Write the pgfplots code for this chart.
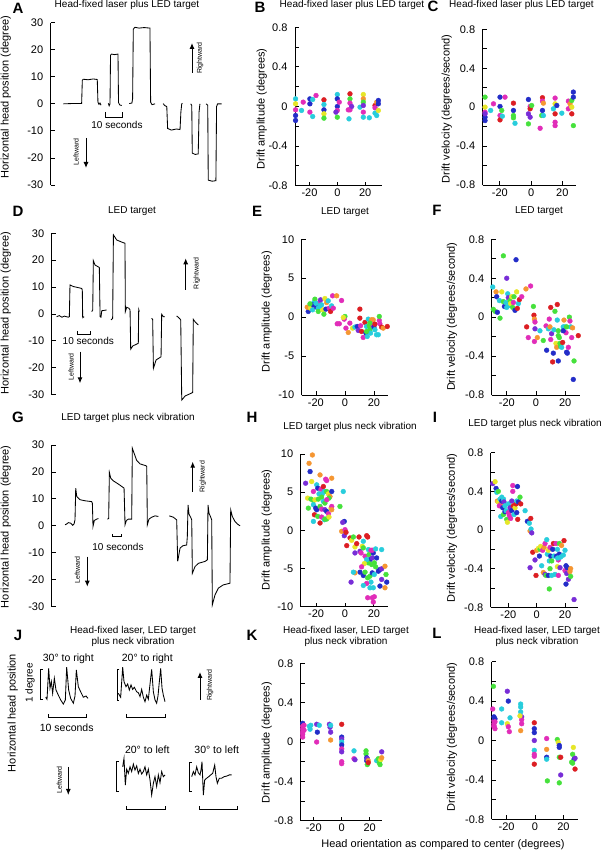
\documentclass[border=0pt]{standalone}
\usepackage{pgfplots}
\pgfplotsset{compat=1.18}
\usepackage{pgfplotstable}
\usepackage{fontspec}
\setmainfont{Liberation Sans}
\usetikzlibrary{arrows.meta}
\definecolor{crd}{RGB}{220,30,35}
\definecolor{cor}{RGB}{245,150,50}
\definecolor{cye}{RGB}{230,230,40}
\definecolor{cgn}{RGB}{70,225,60}
\definecolor{ccy}{RGB}{40,205,220}
\definecolor{cbl}{RGB}{35,45,200}
\definecolor{cpu}{RGB}{120,45,215}
\definecolor{cmg}{RGB}{225,45,185}
\newcommand{\fs}[1]{\fontsize{#1}{#1}\selectfont}
\pgfplotsset{
  base/.style={scale only axis, anchor=south west, clip=false,
    axis line style={line width=0.9pt,-},
    tick style={black,line width=0.8pt},
    tick align=inside, major tick length=4pt, minor tick length=4pt,
    tick label style={font=\fs{11}},
    /pgf/number format/assume math mode=true,
    yticklabel style={xshift=-4pt}},
  trace/.style={base, axis x line=none, axis y line*=left, xtick=\empty, xmin=0, ymin=-30, ymax=30, ytick={-30,-20,...,30}},
  scat/.style={base, axis x line*=bottom, axis y line*=left, xtick={-20,0,20}},
  fr/.style={ymin=-0.8,ymax=0.8,ytick={-0.8,-0.4,0,0.4,0.8},minor ytick={-0.6,-0.2,0.2,0.6}},
  tn/.style={ymin=-10,ymax=10,ytick={-10,-5,0,5,10}},
  tr/.style={black, line width=0.85pt, no marks},
  dots/.style={only marks, scatter, scatter src=explicit symbolic, mark=*, mark size=2.4pt,
    scatter/classes={rd={draw=crd,fill=crd}, or={draw=cor,fill=cor}, ye={draw=cye,fill=cye},
      gn={draw=cgn,fill=cgn}, cy={draw=ccy,fill=ccy}, bl={draw=cbl,fill=cbl},
      pu={draw=cpu,fill=cpu}, mg={draw=cmg,fill=cmg}}},
}
\tikzset{lab/.style={inner sep=0pt,font=\fs{11}},
  ttl/.style={inner sep=0pt,font=\fontsize{10}{11.5}\selectfont,align=center},
  let/.style={inner sep=0pt,font=\fs{15}\bfseries},
  tiny/.style={inner sep=0pt,font=\fs{7},rotate=90},
  arr/.style={line width=1pt,-{Latex[length=6pt,width=5pt]}},
  brk/.style={line width=0.8pt}}

\pgfplotstableread{
x y c
-30.0 0.077 cy
-30.0 0.027 ye
-30.0 -0.034 mg
-30.0 -0.091 bl
-30.0 -0.141 bl
-25.7 -0.040 cy
-24.5 0.044 mg
-19.7 0.077 bl
-19.7 0.027 bl
-19.7 -0.057 mg
-17.7 0.071 cy
-17.7 -0.101 cy
-15.3 0.111 mg
-9.6 0.067 rd
-9.6 0.020 cy
-9.6 -0.034 bl
-9.6 -0.074 ye
-9.6 -0.118 gn
0.0 0.121 cy
0.0 0.077 bl
0.0 0.000 bl
0.0 -0.040 mg
0.0 -0.108 gn
1.4 0.044 mg
-1.0 -0.057 pu
9.1 0.128 rd
9.1 0.077 gn
9.1 0.034 mg
9.1 -0.034 mg
10.3 0.000 pu
7.9 -0.034 mg
8.4 -0.125 cy
16.3 -0.007 cy
18.7 0.121 ye
18.7 0.077 or
18.7 0.044 gn
18.7 0.010 pu
18.7 -0.057 mg
18.7 -0.108 cy
23.0 -0.114 cy
27.1 0.010 rd
27.1 -0.013 mg
27.1 -0.067 cy
28.3 0.044 or
28.3 -0.091 cy
29.5 0.061 bl
29.5 0.027 bl
29.5 -0.040 ye
}\datB

\pgfplotstableread{
x y c
-29.5 0.103 gn
-29.5 0.000 ye
-29.5 -0.052 mg
-29.5 -0.103 bl
-29.5 -0.138 bl
-29.5 -0.069 pu
-25.9 -0.034 cy
-24.1 0.034 mg
-19.9 0.103 bl
-19.9 0.007 bl
-19.9 -0.086 mg
-19.9 -0.131 rd
-18.8 -0.034 gn
-18.4 -0.093 cy
-16.7 0.103 mg
-11.3 0.041 rd
-11.3 -0.034 bl
-11.3 -0.086 gn
-11.3 -0.110 gn
-10.3 -0.166 cy
-1.7 0.079 bl
-1.7 -0.069 pu
-1.7 -0.172 gn
-0.6 0.007 mg
-0.6 -0.017 rd
-0.6 -0.103 pu
0.4 0.017 gn
5.8 -0.217 mg
6.8 -0.086 gn
7.3 0.097 rd
7.3 0.062 mg
7.3 -0.034 bl
7.9 0.041 or
7.9 -0.086 cy
14.3 -0.017 cy
15.4 0.093 mg
15.4 0.034 ye
15.4 -0.069 rd
15.4 -0.155 mg
15.4 -0.190 mg
16.5 0.017 bl
19.7 -0.062 cy
23.9 -0.017 mg
23.9 0.062 mg
25.0 0.034 or
26.1 -0.069 rd
26.1 0.000 ye
26.1 0.069 gn
27.1 0.155 bl
27.1 0.103 bl
27.1 -0.190 gn
}\datC

\pgfplotstableread{
x y c
-25.3 0.73 bl
-26.0 1.28 or
-23.7 1.15 ye
-22.3 0.94 cy
-21.4 1.88 cy
-20.7 2.31 gn
-19.5 1.28 bl
-18.4 1.15 cy
-18.4 0.73 gn
-17.7 1.88 mg
-16.8 2.22 pu
-16.1 1.58 cy
-15.4 0.94 ye
-14.5 0.38 gn
-13.8 2.39 ye
-13.1 1.03 bl
-12.6 1.88 or
-11.5 2.09 cy
-10.8 1.15 mg
-9.9 0.73 rd
-9.2 1.45 cy
-8.0 1.15 mg
-8.5 2.74 mg
-5.7 2.74 or
-2.3 2.14 mg
-21.8 1.58 bl
-24.1 1.71 gn
-20.0 1.79 cy
-17.2 1.45 cy
-5.3 -0.85 mg
-3.9 -0.85 mg
0.0 0.09 gn
-0.5 -0.26 mg
-1.1 -0.04 ye
0.7 -1.41 mg
3.4 -0.77 mg
5.3 -1.41 ye
2.3 -1.97 or
6.9 -1.28 cy
10.3 1.03 rd
10.3 -0.13 rd
8.5 -1.20 bl
9.2 -1.71 pu
10.8 -1.11 mg
11.5 -1.84 rd
12.6 -2.61 mg
13.8 -0.68 rd
14.5 -2.05 bl
14.9 -1.20 cy
15.4 -2.48 cy
16.1 -0.26 cy
16.8 -1.11 gn
17.2 -1.62 gn
17.7 -2.05 cy
18.4 -0.34 or
19.1 -0.98 mg
19.5 -0.34 or
20.0 -1.28 bl
20.7 -0.90 rd
21.8 -2.26 cy
23.0 -2.26 cy
23.7 -0.43 mg
23.7 0.09 gn
24.1 -0.85 mg
25.3 -1.28 rd
26.4 -1.41 or
29.2 -1.20 rd
17.2 -0.77 gn
14.9 -1.84 gn
20.7 -1.62 cy
}\datE

\pgfplotstableread{
x y c
-29.7 0.31 cy
-29.3 0.08 gn
-28.1 0.06 gn
-27.4 0.26 or
-27.0 0.21 bl
-26.5 0.05 bl
-24.7 -0.01 gn
-25.1 0.17 cy
-23.5 0.26 ye
-22.4 0.63 gn
-22.4 0.16 gn
-21.7 0.11 bl
-20.6 0.15 cy
-20.1 0.10 cy
-20.1 0.40 pu
-19.4 0.24 cy
-19.0 0.20 pu
-18.3 0.12 cy
-17.8 0.17 gn
-17.4 0.14 ye
-16.7 0.21 ye
-16.0 0.10 gn
-15.5 0.15 mg
-15.1 0.21 gn
-14.4 0.07 bl
-13.7 0.59 bl
-13.3 0.26 ye
-12.8 0.09 rd
-12.1 0.14 cy
-11.4 0.18 rd
-9.8 0.21 mg
-6.9 0.29 or
-3.7 0.32 mg
-6.4 -0.10 rd
-5.3 -0.21 mg
-1.8 0.11 gn
-1.4 0.02 rd
-1.1 -0.02 or
-0.7 -0.05 mg
-0.7 -0.12 pu
-1.1 -0.25 mg
0.9 -0.21 or
2.7 -0.14 cy
5.0 -0.24 gn
6.9 -0.09 mg
7.3 -0.34 bl
8.5 -0.12 cy
9.1 -0.02 mg
9.6 -0.10 or
10.1 0.10 rd
10.1 -0.23 mg
10.7 -0.17 pu
11.4 -0.46 rd
11.9 -0.37 bl
12.3 -0.13 cy
13.0 0.06 gn
13.7 -0.27 ye
14.2 -0.31 or
14.6 0.13 rd
14.6 -0.03 cy
15.3 -0.14 gn
15.3 -0.19 gn
15.3 -0.45 bl
16.0 -0.21 gn
16.5 -0.27 gn
16.9 -0.30 gn
17.6 -0.31 cy
18.3 -0.26 rd
18.7 -0.10 cy
19.2 -0.03 or
19.9 -0.10 cy
20.6 -0.16 mg
21.0 -0.36 bl
21.5 -0.37 bl
22.2 -0.31 mg
22.9 0.00 gn
23.3 -0.04 mg
23.8 -0.10 cy
24.5 -0.21 mg
25.1 -0.11 or
25.6 -0.64 bl
26.1 -0.45 gn
29.0 -0.19 rd
18.7 -0.14 bl
21.0 -0.10 gn
}\datF

\pgfplotstableread{
x y c
-22.6 9.87 or
-24.9 8.78 or
-24.2 7.70 bl
-27.3 6.17 pu
-23.1 6.39 ye
-19.6 5.96 cy
-17.3 7.26 or
-13.4 6.70 mg
-12.7 6.52 mg
-9.2 6.83 or
-21.9 5.09 mg
-18.9 5.52 bl
-16.6 5.39 mg
-15.0 5.74 rd
-14.3 5.09 cy
-18.0 4.78 cy
-15.7 4.78 cy
-12.7 5.09 gn
-11.5 4.78 ye
-10.4 4.43 or
-11.1 4.22 gn
-9.2 5.09 bl
-25.9 4.22 ye
-23.6 4.09 gn
-21.9 3.91 gn
-20.8 4.00 ye
-18.5 4.09 gn
-16.2 4.35 gn
-15.0 3.78 cy
-13.9 3.57 gn
-12.7 4.00 mg
-25.4 2.91 gn
-21.9 3.35 cy
-20.3 2.91 bl
-19.6 2.70 bl
-17.3 3.13 gn
-16.2 2.78 mg
-13.9 2.70 pu
-12.7 2.48 bl
-11.5 2.17 mg
-9.7 2.91 ye
-9.2 3.13 mg
-21.2 2.04 rd
-21.9 1.17 cy
-18.9 1.83 gn
-16.2 1.74 mg
-14.3 1.39 cy
-17.3 0.96 rd
-13.9 1.48 gn
-12.7 1.48 gn
-11.1 1.74 ye
-9.2 2.70 or
-3.5 3.13 gn
-1.2 5.09 cy
-0.5 1.17 bl
-1.6 1.04 pu
-2.3 -0.13 or
0.0 0.09 mg
-0.5 -0.70 pu
0.7 -0.26 rd
3.5 -1.00 rd
4.6 -1.30 ye
1.2 -2.00 rd
5.8 -0.87 gn
6.9 -2.17 ye
8.1 -1.74 rd
9.7 -0.87 rd
10.4 -2.74 pu
6.9 -2.96 pu
11.1 -2.96 mg
12.0 -2.09 ye
12.7 -1.43 cy
12.7 -2.30 gn
13.9 -3.39 mg
15.0 -0.70 rd
15.7 -0.87 rd
16.2 -2.52 cy
16.6 -3.17 gn
17.3 -3.83 bl
18.0 -2.61 mg
18.9 -3.61 pu
19.6 -2.96 bl
20.3 -4.26 gn
21.2 -4.78 gn
18.5 -4.48 gn
16.2 -4.26 gn
15.0 -3.83 cy
13.4 -4.35 ye
11.5 -4.78 mg
10.4 -5.48 bl
12.7 -5.91 bl
13.9 -5.48 gn
15.7 -6.22 gn
17.3 -6.00 gn
18.9 -5.57 bl
20.3 -5.78 cy
18.0 -6.78 cy
19.6 -7.52 cy
17.3 -7.52 cy
15.0 -6.96 mg
12.7 -7.22 cy
6.9 -5.57 or
5.8 -5.48 cy
4.2 -6.78 pu
21.9 -3.61 bl
23.1 -5.35 bl
24.2 -5.13 bl
25.4 -5.04 pu
25.4 -2.52 cy
27.7 -4.70 or
28.4 -5.78 gn
28.9 -6.78 bl
27.7 -7.52 or
25.4 -6.43 pu
24.2 -7.30 bl
18.9 -2.61 mg
15.7 -8.83 mg
18.9 -8.83 mg
20.3 -8.70 mg
19.6 -9.39 mg
21.2 -2.43 cy
}\datH

\pgfplotstableread{
x y c
-31.1 0.48 pu
-29.4 0.50 ye
-28.7 0.43 bl
-28.2 0.39 cy
-27.1 0.40 gn
-27.8 0.30 or
-27.1 0.29 ye
-25.9 0.32 cy
-25.4 0.27 or
-26.4 0.25 mg
-24.7 0.34 cy
-24.7 0.30 bl
-24.0 0.23 bl
-23.5 0.32 cy
-23.1 0.29 pu
-22.4 0.25 cy
-25.4 0.14 cy
-23.5 0.16 gn
-22.4 0.19 bl
-21.6 0.20 cy
-21.2 0.11 gn
-20.7 0.08 ye
-20.0 0.27 cy
-20.0 0.18 mg
-19.3 0.15 mg
-18.8 0.23 pu
-18.4 0.12 mg
-17.6 0.20 bl
-17.6 0.30 pu
-16.9 0.46 mg
-16.9 0.40 mg
-16.5 0.25 rd
-16.0 0.16 cy
-15.3 0.23 ye
-14.6 0.27 rd
-14.1 0.18 bl
-14.1 0.30 cy
-13.6 0.45 bl
-13.4 0.11 rd
-12.9 0.29 bl
-11.8 0.34 gn
-11.3 0.27 rd
-8.2 0.20 cy
-6.6 0.09 bl
-5.2 0.07 cy
-4.2 0.12 rd
-4.7 -0.01 or
-4.0 0.01 cy
-3.5 -0.03 pu
-4.7 -0.39 pu
-2.8 -0.23 rd
-1.2 -0.31 pu
-0.5 -0.47 rd
0.0 -0.21 or
1.2 -0.19 ye
1.9 -0.27 bl
2.4 -0.20 gn
2.8 -0.17 ye
3.5 -0.37 cy
4.2 -0.21 mg
4.7 -0.44 or
5.2 -0.18 or
5.9 -0.14 mg
5.9 -0.46 pu
6.6 -0.47 gn
7.1 -0.10 cy
7.5 -0.25 cy
8.2 -0.21 ye
8.2 -0.47 bl
8.9 -0.32 cy
9.4 -0.18 mg
9.4 -0.40 gn
9.9 -0.27 bl
10.6 -0.32 gn
10.6 -0.47 cy
11.3 -0.20 bl
11.8 -0.14 rd
12.2 -0.27 cy
12.9 -0.46 cy
13.6 -0.14 mg
14.1 -0.27 bl
14.6 -0.38 ye
14.6 -0.20 cy
15.3 -0.31 mg
15.3 -0.47 mg
16.0 -0.14 gn
16.0 -0.25 bl
16.5 -0.39 pu
16.9 -0.28 cy
17.6 -0.16 or
18.8 -0.26 cy
19.3 -0.11 rd
20.0 -0.21 cy
20.0 -0.42 mg
20.7 -0.37 bl
21.2 -0.45 pu
21.6 -0.39 bl
22.4 -0.51 pu
23.5 -0.43 or
24.0 -0.48 gn
24.0 -0.40 or
8.9 -0.61 gn
20.7 -0.56 bl
26.4 -0.72 pu
14.8 -0.29 cy
}\datI

\pgfplotstableread{
x y c
-27.9 0.19 bl
-27.9 0.16 mg
-27.9 0.13 mg
-27.9 0.10 mg
-27.9 0.08 mg
-27.9 0.05 mg
-26.9 0.17 mg
-26.9 0.12 mg
-23.1 0.16 cy
-22.6 0.13 cy
-22.1 0.17 cy
-17.9 0.18 pu
-17.4 0.10 bl
-17.9 0.00 mg
-16.0 0.17 cy
-8.8 0.18 pu
-8.3 0.15 pu
-7.9 0.10 pu
-7.9 0.17 cy
-7.9 0.02 or
0.0 0.18 rd
0.0 0.05 bl
0.0 0.03 pu
0.0 0.00 cy
0.0 -0.03 bl
0.0 -0.07 mg
0.0 -0.10 pu
0.0 -0.20 mg
0.0 -0.22 mg
8.8 -0.09 cy
8.8 -0.17 mg
9.5 -0.18 pu
17.4 -0.09 gn
17.4 -0.12 gn
17.9 -0.16 bl
17.9 -0.19 bl
18.3 -0.17 pu
19.0 -0.19 or
18.3 -0.23 gn
19.0 -0.21 rd
25.0 -0.19 cy
26.2 -0.17 gn
26.9 -0.21 gn
27.9 -0.18 ye
28.6 -0.16 or
28.6 -0.10 pu
27.4 -0.23 gn
}\datK

\pgfplotstableread{
x y c
-29.3 0.55 gn
-29.8 0.32 mg
-28.9 0.24 bl
-28.9 0.20 mg
-28.9 0.17 mg
-28.9 0.15 mg
-28.9 0.14 mg
-28.2 0.22 bl
-28.2 0.19 mg
-28.2 0.12 mg
-23.5 0.32 cy
-23.5 0.18 cy
-19.5 0.50 pu
-18.8 0.40 bl
-19.5 0.17 ye
-18.8 0.14 mg
-17.6 0.23 cy
-18.1 0.09 mg
-10.1 0.37 cy
-10.1 0.34 cy
-10.1 0.29 cy
-9.4 0.24 pu
-9.4 0.21 mg
-9.4 0.17 mg
-10.1 0.10 or
-10.6 0.25 ye
-0.5 0.18 rd
-0.5 0.12 bl
-0.5 0.08 bl
-0.5 0.00 pu
-0.5 -0.10 cy
-0.5 -0.14 mg
-0.5 -0.16 mg
-0.5 -0.24 rd
8.2 0.02 mg
8.2 -0.09 or
8.2 -0.17 bl
8.2 -0.19 cy
8.7 -0.41 gn
15.7 0.01 gn
16.4 -0.02 ye
17.1 -0.05 bl
17.1 -0.07 bl
17.1 -0.17 gn
18.1 -0.17 rd
18.1 -0.35 pu
17.1 -0.43 gn
27.0 -0.07 ye
26.5 -0.14 gn
27.5 -0.19 bl
28.2 -0.18 pu
25.8 -0.22 gn
26.5 -0.23 gn
28.2 -0.29 rd
}\datL

\begin{document}
\begin{tikzpicture}
\useasboundingbox (0pt,0pt) rectangle (602pt,853pt);

% ---------------- A ----------------
\begin{axis}[trace, at={(50.7pt,668pt)}, width=179.3pt, height=162.3pt, xmax=105.5]
\addplot[tr] coordinates {(7.4,0) (12,0.1) (18.2,0.1) (18.6,8.7) (19.2,9.1) (22,8.9) (25,9.2) (27.4,9.0) (27.8,0.6) (28.4,-0.2) (29.0,0.3) (29.6,-0.5)};
\addplot[tr] coordinates {(33.9,0.2) (34.4,-0.7) (34.9,0) (35.2,18.0) (35.8,18.4) (37.5,18.2) (39.6,18.4) (39.9,0.5) (40.6,-0.4) (41.8,-0.6)};
\addplot[tr] coordinates {(46.2,0.1) (47.8,0.3) (48.2,2.0) (48.6,27.6) (49.5,28.3) (52,28.0) (55,28.2) (58.4,28.0) (58.8,0.6) (59.6,-0.3) (61.4,0)};
\addplot[tr] coordinates {(66.2,0.1) (67.0,-0.6) (68.3,-1.0) (68.8,-9.1) (71,-9.7) (74,-9.3) (76.1,-9.5) (76.6,-3.0) (77.1,0) (77.5,0.2)};
\addplot[tr] coordinates {(82.4,0) (83.0,-0.6) (83.3,-18.2) (85,-18.7) (86.8,-18.5) (87.3,-3.0) (87.8,0)};
\addplot[tr] coordinates {(91.4,0) (92.4,-0.5) (92.7,-28.2) (95,-28.6) (97.2,-28.4) (97.6,-1.0) (98.2,0) (100.6,0)};
\end{axis}

% ---------------- D ----------------
\begin{axis}[trace, at={(51.7pt,458.3pt)}, width=178.3pt, height=161.4pt, xmax=140.4]
\addplot[tr] coordinates {(3.9,-1.0) (6,-0.6) (8,-1.2) (10,-0.8) (13.1,-1.2) (13.9,-1.0) (14.4,10.8) (17.1,10.2) (20,9.9) (23.6,9.5) (24.1,8.9) (24.4,-1.4) (25.5,-1.0)};
\addplot[tr] coordinates {(31.5,0.9) (32.3,1.5) (32.8,19.8) (34.1,18.2) (37.5,17.3) (38.1,-1.0) (38.8,-1.2) (39.4,1.2) (43.3,1.5)};
\addplot[tr] coordinates {(46.7,-2.2) (48.0,-1.6) (48.6,29.4) (51.2,27.5) (56.4,26.5) (57.7,26.3) (58.0,0.9) (59.1,2.5) (60.9,2.1) (61.7,1.5) (62.2,-13.1) (63.8,-11.9) (68.2,-10.9) (68.5,1.7) (69.0,0.9)};
\addplot[tr] coordinates {(78.7,-1.6) (79.5,-2.0) (80.1,-20.2) (82.2,-17.1) (86.1,-15.9) (86.6,-0.1) (87.9,-1.0) (89.2,-1.0)};
\addplot[tr] coordinates {(98.4,-0.7) (100.5,-1.6) (101.6,-2.2) (102.4,-32.0) (105.0,-30.5) (111.0,-29.2) (111.5,-2.0) (112.9,-2.9) (115.5,-4.1)};
\end{axis}

% ---------------- G ----------------
\begin{axis}[trace, at={(51.7pt,246.3pt)}, width=193.3pt, height=161.7pt, xmax=214.8]
\addplot[tr] coordinates {(14.8,0.4) (16.7,0.7) (18.5,1.2) (21.1,1.0) (23.3,0.2) (24.8,0.7) (25.9,2.2) (26.7,14.0) (27.8,10.9) (31.5,9.7) (37.0,9.3) (44.4,9.0) (45.2,8.4) (45.9,-0.2) (47.4,2.0) (50.0,2.5) (51.9,2.7)};
\addplot[tr] coordinates {(61.9,2.5) (63.3,2.7) (64.1,19.8) (65.6,17.7) (68.5,16.7) (74.1,15.5) (79.6,14.2) (80.4,14.0) (81.5,0.4) (83.0,2.0) (85.2,2.5) (88.9,2.5) (89.6,28.8) (91.5,27.0) (94.4,24.3) (98.1,23.0) (104.8,22.3) (105.6,22.0) (106.3,0.4) (108.1,2.5) (111.1,3.2) (114.8,3.7) (118.5,3.5)};
\addplot[tr] coordinates {(130.7,3.7) (135.2,3.2) (138.9,2.2) (140.0,-13.2) (142.6,-8.3) (145.6,-7.4) (150.0,-7.1) (150.7,-4.0) (151.5,7.8) (152.6,4.3) (154.4,3.2) (155.6,2.2) (156.3,-17.6) (159.3,-15.1) (163.0,-13.9) (170.4,-13.2) (173.0,-12.6) (173.7,7.8) (174.8,4.7) (176.7,3.2) (177.8,2.2) (178.5,-29.3) (181.5,-25.6) (185.2,-23.1) (190.7,-21.9) (198.1,-21.3) (198.9,5.9) (200.7,3.5) (203.7,1.6) (206.3,0.7) (209.3,0)};
\end{axis}

% ---------------- J ----------------
\begin{axis}[scale only axis, anchor=south west, at={(40pt,43pt)}, width=200pt, height=150pt, xmin=0, xmax=52.17, ymin=0, ymax=5, hide axis, clip=false]
\addplot[tr] coordinates {(1.48,3.76) (1.83,3.69) (2.26,4.72) (2.61,4.06) (2.96,4.28) (3.30,3.89) (3.74,4.39) (4.17,4.00) (4.78,3.83) (5.39,3.67) (6.09,3.53) (6.61,3.67) (6.96,4.76) (7.48,4.00) (8.00,3.72) (8.70,3.56) (9.13,3.80) (9.48,4.67) (10.00,4.11) (10.61,3.94) (11.30,3.76) (12.00,3.80) (12.52,3.72)};
\addplot[tr] coordinates {(20.43,3.89) (21.04,3.76) (21.57,4.76) (21.91,4.28) (22.43,4.11) (22.87,4.20) (23.30,4.00) (23.74,4.17) (24.17,4.02) (24.61,4.09) (25.22,3.94) (25.65,3.91) (26.09,3.78) (26.52,4.02) (26.96,3.76) (27.39,3.61) (27.83,3.83) (28.26,3.69) (28.70,4.20) (29.13,4.69) (29.57,3.94) (30.00,3.67) (30.43,3.56) (30.78,3.80) (31.13,4.28) (31.48,4.72) (31.83,4.06) (32.17,3.83) (32.61,3.61)};
\addplot[tr] coordinates {(21.57,1.44) (21.91,1.72) (22.26,0.83) (22.61,1.36) (23.04,1.22) (23.48,1.44) (23.91,1.28) (24.35,1.53) (24.78,1.33) (25.22,1.47) (25.65,1.22) (26.09,1.36) (26.52,1.20) (26.96,1.28) (27.39,1.44) (27.83,1.17) (28.26,1.36) (28.70,1.00) (29.13,0.50) (29.57,0.89) (30.00,1.11) (30.43,0.78) (30.87,1.17) (31.30,0.91) (31.74,1.28) (32.17,1.11) (32.61,1.17)};
\addplot[tr] coordinates {(39.57,1.11) (40.00,1.28) (40.43,1.17) (40.87,1.44) (41.30,1.24) (41.74,1.17) (42.00,1.33) (42.26,1.61) (42.61,0.50) (42.96,1.00) (43.48,1.06) (44.00,1.11) (44.52,1.17) (45.04,1.22) (45.57,1.50) (45.91,1.11) (46.26,0.89) (46.78,1.06) (47.39,1.06) (48.00,1.11) (48.70,1.13) (49.39,1.17) (50.00,1.17)};
\end{axis}

% ---------------- B ----------------
\begin{axis}[scat, fr, at={(295pt,667.3pt)}, width=86.7pt, height=158.4pt, xmin=-30.4, xmax=31.9]
\addplot[dots] table[x=x,y=y,meta=c]{\datB};
\end{axis}
% ---------------- C ----------------
\begin{axis}[scat, fr, at={(482.7pt,668pt)}, width=93.3pt, height=155.7pt, xmin=-31, xmax=28.8]
\addplot[dots] table[x=x,y=y,meta=c]{\datC};
\end{axis}
% ---------------- E ----------------
\begin{axis}[scat, tn, at={(301.7pt,458pt)}, width=86.3pt, height=155.7pt, xmin=-29.8, xmax=29.7]
\addplot[dots] table[x=x,y=y,meta=c]{\datE};
\end{axis}
% ---------------- F ----------------
\begin{axis}[scat, fr, at={(491.7pt,458pt)}, width=88.3pt, height=155.7pt, xmin=-30.4, xmax=30.2]
\addplot[dots] table[x=x,y=y,meta=c]{\datF};
\end{axis}
% ---------------- H ----------------
\begin{axis}[scat, tn, at={(300.7pt,246.3pt)}, width=87.6pt, height=152.7pt, xmin=-30.7, xmax=30]
\addplot[dots] table[x=x,y=y,meta=c]{\datH};
\end{axis}
% ---------------- I ----------------
\begin{axis}[scat, fr, at={(490.7pt,245.7pt)}, width=87.6pt, height=154.6pt, xmin=-32.5, xmax=29.4]
\addplot[dots] table[x=x,y=y,meta=c]{\datI};
\end{axis}
% ---------------- K ----------------
\begin{axis}[scat, fr, at={(300.7pt,32.3pt)}, width=81pt, height=157.4pt, xmin=-29.3, xmax=28.6]
\addplot[dots] table[x=x,y=y,meta=c]{\datK};
\end{axis}
% ---------------- L ----------------
\begin{axis}[scat, fr, at={(491.7pt,33.7pt)}, width=86.6pt, height=157.6pt, xmin=-30.5, xmax=30.5]
\addplot[dots] table[x=x,y=y,meta=c]{\datL};
\end{axis}

% ---------- panel letters ----------
\node[let] at (18pt,845pt) {A};
\node[let] at (260pt,846pt) {B};
\node[let] at (433pt,847pt) {C};
\node[let] at (18pt,642pt) {D};
\node[let] at (257pt,642pt) {E};
\node[let] at (437pt,643pt) {F};
\node[let] at (18pt,436pt) {G};
\node[let] at (252pt,436pt) {H};
\node[let] at (435pt,436pt) {I};
\node[let] at (18pt,218pt) {J};
\node[let] at (252pt,218pt) {K};
\node[let] at (437pt,220pt) {L};

% ---------- titles ----------
\node[ttl] at (127pt,848pt) {Head-fixed laser plus LED target};
\node[ttl] at (352pt,848pt) {Head-fixed laser plus LED target};
\node[ttl] at (521.5pt,848pt) {Head-fixed laser plus LED target};
\node[ttl] at (132pt,642pt) {LED target};
\node[ttl] at (345pt,641.3pt) {LED target};
\node[ttl] at (539pt,642pt) {LED target};
\node[ttl] at (128pt,435pt) {LED target plus neck vibration};
\node[ttl] at (350pt,426pt) {LED target plus neck vibration};
\node[ttl] at (535pt,429pt) {LED target plus neck vibration};
\node[ttl] at (133pt,216.5pt) {Head-fixed laser, LED target\\plus neck vibration};
\node[ttl] at (346pt,216.7pt) {Head-fixed laser, LED target\\plus neck vibration};
\node[ttl] at (537pt,216.7pt) {Head-fixed laser, LED target\\plus neck vibration};

% ---------- y labels ----------
\node[lab,rotate=90] at (5.8pt,756pt) {Horizontal head position (degree)};
\node[lab,rotate=90] at (5.8pt,540pt) {Horizontal head position (degree)};
\node[lab,rotate=90] at (5.8pt,326.3pt) {Horizontal head position (degree)};
\node[lab,rotate=90] at (261.7pt,744pt) {Drift amplitude (degrees)};
\node[lab,rotate=90] at (446.7pt,744pt) {Drift velocity (degrees/second)};
\node[lab,rotate=90] at (266.7pt,541.3pt) {Drift amplitude (degrees)};
\node[lab,rotate=90] at (452pt,536.3pt) {Drift velocity (degrees/second)};
\node[lab,rotate=90] at (266.7pt,323pt) {Drift amplitude (degrees)};
\node[lab,rotate=90] at (452pt,324.7pt) {Drift velocity (degrees/second)};
\node[lab,rotate=90] at (266.7pt,110.5pt) {Drift amplitude (degrees)};
\node[lab,rotate=90] at (452pt,116pt) {Drift velocity (degrees/second)};
\node[lab] at (443pt,8pt) {Head orientation as compared to center (degrees)};

% ---------- A annotations ----------
\draw[brk] (105pt,741pt) -- (105pt,736pt) -- (122pt,736pt) -- (122pt,741pt);
\node[inner sep=0pt,font=\fs{10}] at (117pt,728pt) {10 seconds};
\draw[arr] (192pt,780pt) -- (192pt,810pt);
\node[tiny] at (200pt,795pt) {Rightward};
\draw[arr] (86pt,715pt) -- (86pt,685pt);
\node[tiny] at (76pt,701pt) {Leftward};

% ---------- D annotations ----------
\draw[brk] (77.3pt,522pt) -- (77.3pt,519pt) -- (90pt,519pt) -- (90pt,522pt);
\node[inner sep=0pt,font=\fs{10}] at (88.3pt,511.7pt) {10 seconds};
\draw[arr] (185.7pt,563pt) -- (185.7pt,594.7pt);
\node[tiny] at (196.7pt,579.7pt) {Rightward};
\draw[arr] (80pt,501.3pt) -- (80pt,469.7pt);
\node[tiny] at (71pt,486.3pt) {Leftward};

% ---------- G annotations ----------
\draw[brk] (112.7pt,319pt) -- (112.7pt,317pt) -- (121.7pt,317pt) -- (121.7pt,319pt);
\node[inner sep=0pt,font=\fs{10}] at (118pt,306.3pt) {10 seconds};
\draw[arr] (192.7pt,361.3pt) -- (192.7pt,391.3pt);
\node[tiny] at (202.7pt,376.3pt) {Rightward};
\draw[arr] (87.3pt,296.3pt) -- (87.3pt,266.3pt);
\node[tiny] at (77.3pt,283pt) {Leftward};

% ---------- J annotations ----------
\draw[brk] (42.7pt,183.7pt) -- (40pt,183.7pt) -- (40pt,153.7pt) -- (42.7pt,153.7pt);
\draw[brk] (119.3pt,183.7pt) -- (117.3pt,183.7pt) -- (117.3pt,153pt) -- (119.3pt,153pt);
\draw[brk] (119pt,91.3pt) -- (116.7pt,91.3pt) -- (116.7pt,61.3pt) -- (119pt,61.3pt);
\draw[brk] (191.7pt,90.3pt) -- (189.3pt,90.3pt) -- (189.3pt,61.3pt) -- (191.7pt,61.3pt);
\draw[brk] (48.3pt,138.5pt) -- (48.3pt,135.7pt) -- (86.7pt,135.7pt) -- (86.7pt,138.5pt);
\draw[brk] (126.7pt,138.5pt) -- (126.7pt,135.7pt) -- (165.7pt,135.7pt) -- (165.7pt,138.5pt);
\draw[brk] (126.7pt,46.5pt) -- (126.7pt,43.7pt) -- (165.7pt,43.7pt) -- (165.7pt,46.5pt);
\draw[brk] (199pt,46.5pt) -- (199pt,43.7pt) -- (237.7pt,43.7pt) -- (237.7pt,46.5pt);
\node[inner sep=0pt,font=\fs{10.5}] at (68.3pt,194.7pt) {30° to right};
\node[inner sep=0pt,font=\fs{10.5}] at (147.3pt,194.7pt) {20° to right};
\node[inner sep=0pt,font=\fs{10.5}] at (66.7pt,125.7pt) {10 seconds};
\node[inner sep=0pt,font=\fs{10.5}] at (147.3pt,103pt) {20° to left};
\node[inner sep=0pt,font=\fs{10.5}] at (216.7pt,103pt) {30° to left};
\node[inner sep=0pt,font=\fs{10},rotate=90] at (30pt,170pt) {1 degree};
\node[lab,rotate=90] at (12.7pt,140pt) {Horizontal head position};
\draw[arr] (200pt,153pt) -- (200pt,181pt);
\node[tiny] at (210pt,168pt) {Rightward};
\draw[arr] (68.3pt,86pt) -- (68.3pt,58pt);
\node[tiny] at (59.3pt,73pt) {Leftward};
\end{tikzpicture}
\end{document}
